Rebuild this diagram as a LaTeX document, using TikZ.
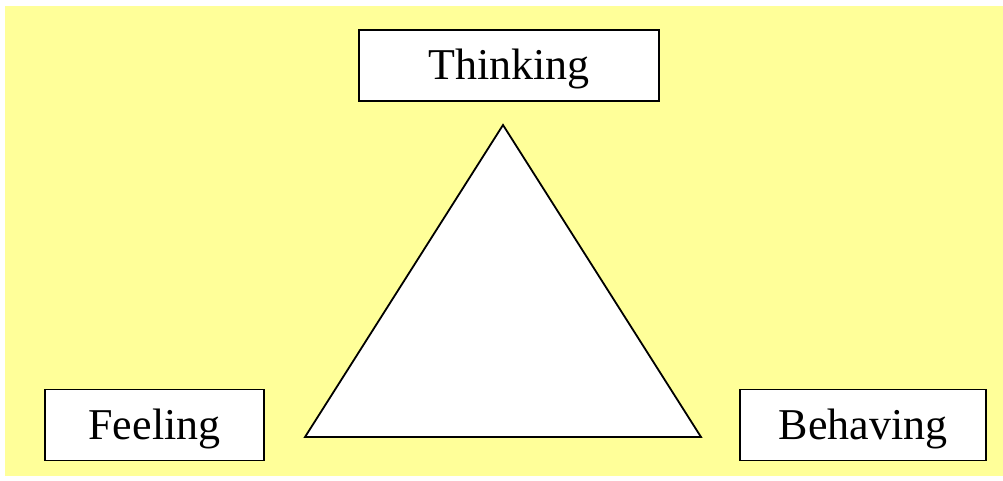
\documentclass[tikz,border=0pt]{standalone}
\usepackage{fontspec}
\setmainfont{Liberation Serif}
\usepackage{xcolor}
\definecolor{vizPaper}{HTML}{FFFF99}

\tikzset{
  wordbox/.style={draw, fill=white, line width=1.8pt, inner sep=0pt,
    minimum height=71pt, text height=29pt, text depth=0pt,
    font=\fontsize{44}{48}\selectfont}
}

\begin{document}
\begin{tikzpicture}[x=1pt, y=-1pt]
  \useasboundingbox (0,0) rectangle (1003,481);
  \filldraw[fill=vizPaper, draw=none] (5,6) rectangle (1003,476);
  % the three words
  \node[wordbox, minimum width=300pt] (thinking) at (509,65.5) {Thinking};
  \node[wordbox, minimum width=219pt] (feeling) at (154.5,425) {Feeling};
  \node[wordbox, minimum width=246pt] (behaving) at (863,425) {Behaving};
  % triangle
  \coordinate (apex) at (503,125);
  \coordinate (baseL) at (305,437);
  \coordinate (baseR) at (701,437);
  \filldraw[fill=white, line width=1.8pt, line join=miter] (apex) -- (baseL) -- (baseR) -- cycle;
\end{tikzpicture}
\end{document}
